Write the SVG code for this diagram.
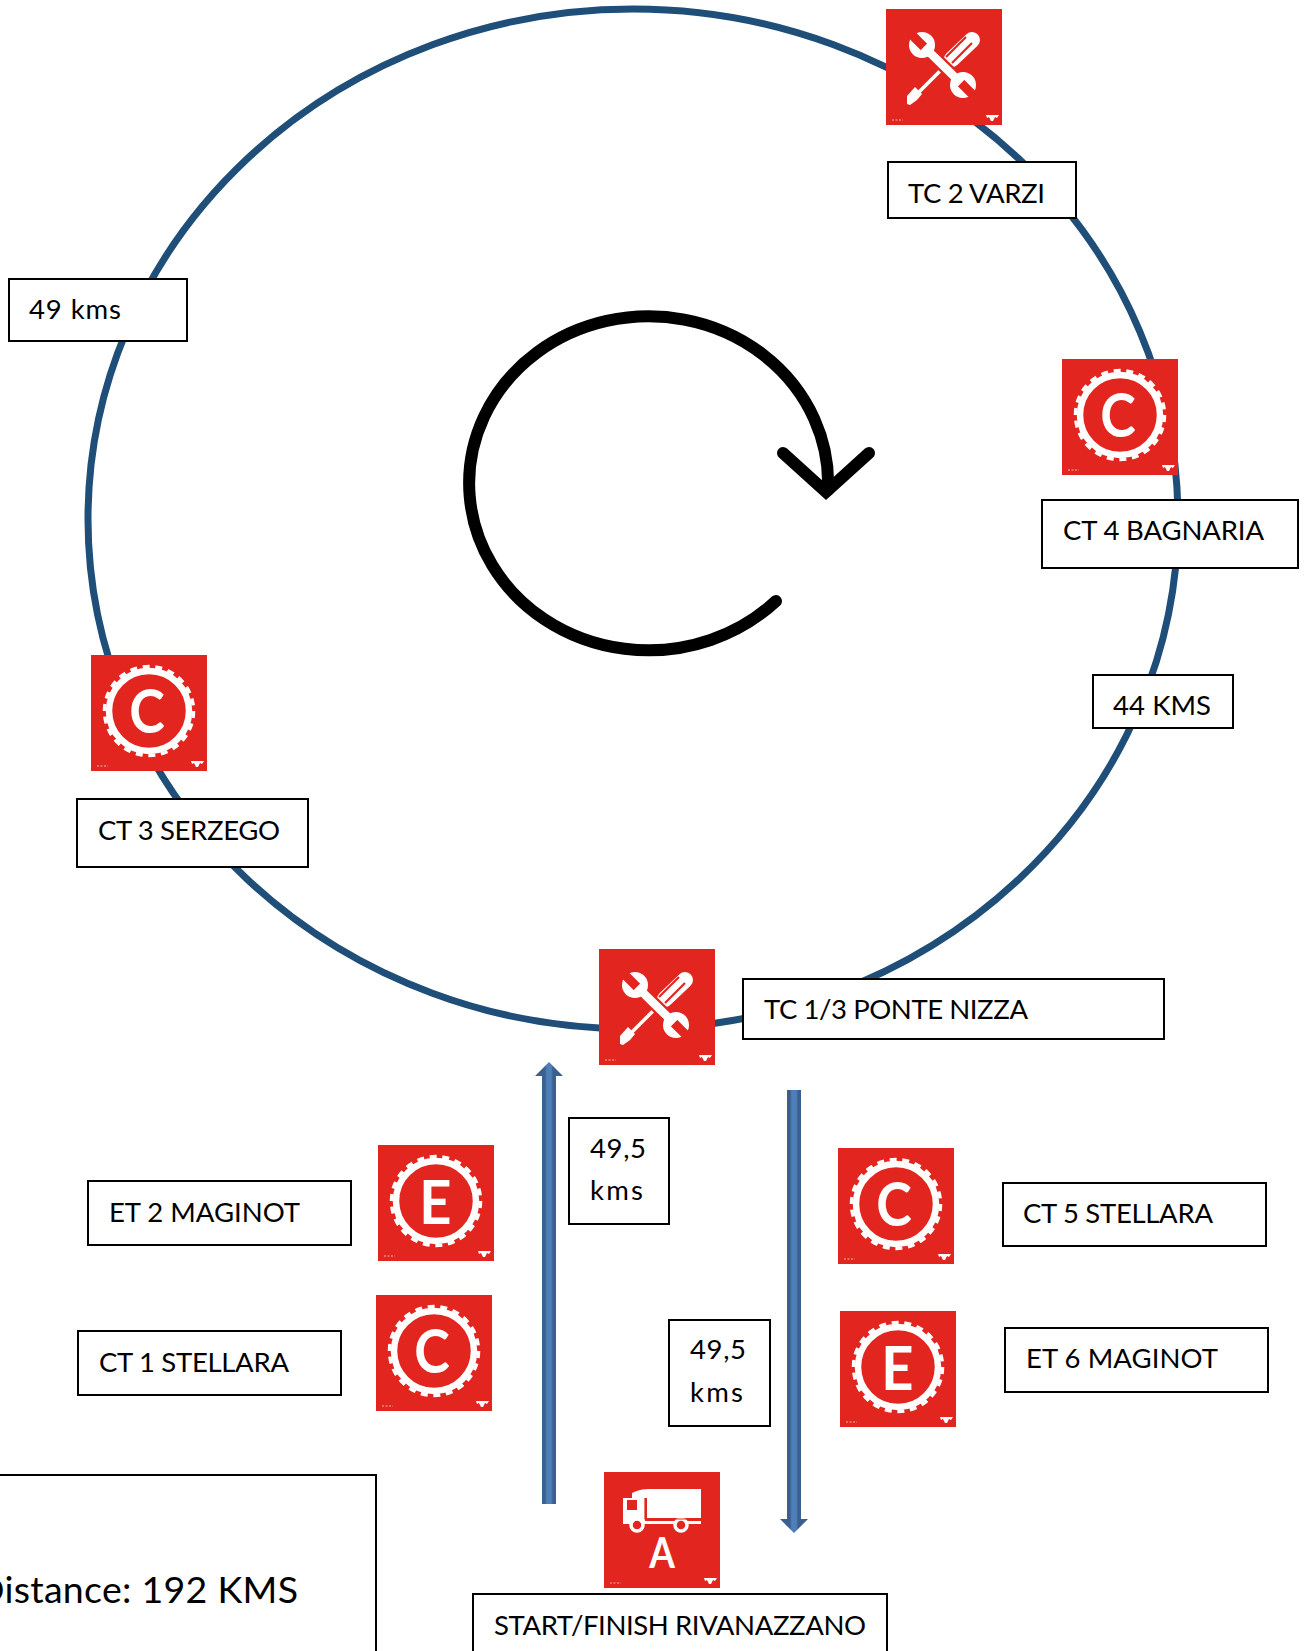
<svg xmlns="http://www.w3.org/2000/svg" xmlns:xlink="http://www.w3.org/1999/xlink" width="1305" height="1651" viewBox="0 0 1305 1651">
<style>
.box{fill:#fff;stroke:#000;stroke-width:2}
.lbl{font-family:"Lato","Liberation Sans",sans-serif;font-size:27.5px;fill:#000}
.big{font-size:37.5px}
.tile{fill:#e2261f}
.glyph{font-family:"Lato","Liberation Sans",sans-serif;font-weight:700;fill:#fff;text-anchor:middle;font-size:61px}
.w{fill:#fff;stroke:none}
</style>
<defs>
<linearGradient id="shaft" x1="0" x2="1" y1="0" y2="0">
<stop offset="0" stop-color="#3b6090"/><stop offset="0.36" stop-color="#3b6090"/><stop offset="0.42" stop-color="#4f7fb8"/><stop offset="0.58" stop-color="#4f7fb8"/><stop offset="0.64" stop-color="#3b6090"/><stop offset="1" stop-color="#3b6090"/>
</linearGradient>
<filter id="soft" x="-5%" y="-5%" width="110%" height="110%"><feGaussianBlur stdDeviation="0.5"/></filter>
<g id="base">
<rect class="tile" width="116" height="116"/>
<path class="w" d="M100 106h13l-2 3-2-1-2 4h-2l-2-4-2 1z"/>
<path d="M6 111h11" stroke="#f3b0ac" stroke-width="1" stroke-dasharray="2 1.5" fill="none"/>
</g>
<g id="ring" filter="url(#soft)">
<circle cx="58" cy="56" r="40" fill="none" stroke="#fff" stroke-width="6.5"/>
<circle cx="58" cy="56" r="44.5" fill="none" stroke="#fff" stroke-width="3.5" pathLength="44" stroke-dasharray="1.1 0.9"/>
</g>
<g id="tools">
<path d="M26 90 L60 56" stroke="#fff" stroke-width="3.5" fill="none"/>
<path class="w" d="M21 87l8-9 7 7-5 6-7 5-3-1z"/>
<path d="M66 50L86 31" stroke="#fff" stroke-width="16" stroke-linecap="round" fill="none"/>
<path d="M60 48L80 28M66 54L86 34" stroke="#e2261f" stroke-width="2.2" fill="none"/>
<path d="M34 34L79 78" stroke="#e2261f" stroke-width="13" fill="none"/>
<path d="M34 34L79 78" stroke="#fff" stroke-width="8.5" fill="none"/>
<circle cx="36" cy="36" r="13" fill="#fff"/>
<circle cx="77" cy="76" r="13" fill="#fff"/>
<path d="M38 38L22 22M75 74L91 90" stroke="#e2261f" stroke-width="9" fill="none"/>
<path d="M43 43l-5-5M70 69l5 5" stroke="#fff" stroke-width="8.5" fill="none"/>
</g>
<g id="truck">
<path class="w" d="M43 17H97V46H43zM28 21Q36 17 44 17V26H28zM19 26H41V50H19z"/>
<path class="tile" d="M23 28H33V38H23z"/>
<path class="w" d="M19 49H97V52H19z"/>
<g fill="#e2261f" stroke="#fff" stroke-width="3.5"><circle cx="33" cy="53" r="6"/><circle cx="77" cy="53" r="6"/></g>
<path d="M41 26V47H97" stroke="#e2261f" stroke-width="1.2" fill="none"/>
</g>
</defs>
<rect width="1305" height="1651" fill="#fff"/>
<g id="connectors">
<ellipse cx="633" cy="519" rx="545" ry="510" fill="none" stroke="#1f4e79" stroke-width="7"/>
<path d="M776 601A179.5 167 0 1 1 828 490" fill="none" stroke="#000" stroke-width="12" stroke-linecap="round"/>
<path d="M783 453L826 492L869 453" fill="none" stroke="#000" stroke-width="12" stroke-linecap="round"/>
<path d="M542 1504V1076H535L549 1062L563 1076H556V1504Z" fill="url(#shaft)"/>
<path d="M787 1090V1519H780L794 1533L808 1519H801V1090Z" fill="url(#shaft)"/>
</g>
<g id="icon-tc2" transform="translate(886 9)"><use href="#base"/><use href="#tools"/></g>
<g id="icon-ct4" transform="translate(1062 359)"><use href="#base"/><use href="#ring"/><text class="glyph" transform="translate(56 78) scale(.88 1)">C</text></g>
<g id="icon-ct3" transform="translate(91 655)"><use href="#base"/><use href="#ring"/><text class="glyph" transform="translate(56 78) scale(.88 1)">C</text></g>
<g id="icon-tc13" transform="translate(599 949)"><use href="#base"/><use href="#tools"/></g>
<g id="icon-et2" transform="translate(378 1145)"><use href="#base"/><use href="#ring"/><text class="glyph" transform="translate(57.5 79) scale(.92 1)">E</text></g>
<g id="icon-ct1" transform="translate(376 1295)"><use href="#base"/><use href="#ring"/><text class="glyph" transform="translate(56 78) scale(.88 1)">C</text></g>
<g id="icon-ct5" transform="translate(838 1148)"><use href="#base"/><use href="#ring"/><text class="glyph" transform="translate(56 78) scale(.88 1)">C</text></g>
<g id="icon-et6" transform="translate(840 1311)"><use href="#base"/><use href="#ring"/><text class="glyph" transform="translate(57.5 79) scale(.92 1)">E</text></g>
<g id="icon-a" transform="translate(604 1472)"><use href="#base"/><use href="#truck"/><text class="glyph" style="font-size:42px" transform="translate(58 96) scale(.88 1)">A</text></g>
<g id="label-tc2"><rect class="box" x="888" y="162" width="188" height="56"/><text class="lbl" x="908" y="203" textLength="137">TC 2 VARZI</text></g>
<g id="label-ct4"><rect class="box" x="1042" y="500" width="256" height="68"/><text class="lbl" x="1063" y="540" textLength="201">CT 4 BAGNARIA</text></g>
<g id="label-49"><rect class="box" x="9" y="279" width="178" height="62"/><text class="lbl" x="29" y="319" textLength="92">49 kms</text></g>
<g id="label-44"><rect class="box" x="1093" y="675" width="140" height="53"/><text class="lbl" x="1113" y="715" textLength="98">44 KMS</text></g>
<g id="label-ct3"><rect class="box" x="77" y="799" width="231" height="68"/><text class="lbl" x="98" y="840" textLength="182">CT 3 SERZEGO</text></g>
<g id="label-tc13"><rect class="box" x="743" y="979" width="421" height="60"/><text class="lbl" x="764" y="1019" textLength="264">TC 1/3 PONTE NIZZA</text></g>
<g id="label-495a"><rect class="box" x="569" y="1118" width="100" height="106"/><text class="lbl" x="590" y="1158" textLength="56">49,5</text><text class="lbl" x="590" y="1200" textLength="53">kms</text></g>
<g id="label-495b"><rect class="box" x="669" y="1320" width="101" height="106"/><text class="lbl" x="690" y="1359" textLength="56">49,5</text><text class="lbl" x="690" y="1402" textLength="53">kms</text></g>
<g id="label-et2"><rect class="box" x="88" y="1181" width="263" height="64"/><text class="lbl" x="109" y="1222" textLength="191">ET 2 MAGINOT</text></g>
<g id="label-ct1"><rect class="box" x="78" y="1331" width="263" height="64"/><text class="lbl" x="99" y="1372" textLength="190">CT 1 STELLARA</text></g>
<g id="label-ct5"><rect class="box" x="1003" y="1183" width="263" height="63"/><text class="lbl" x="1023" y="1223" textLength="190">CT 5 STELLARA</text></g>
<g id="label-et6"><rect class="box" x="1005" y="1328" width="263" height="64"/><text class="lbl" x="1026" y="1368" textLength="192">ET 6 MAGINOT</text></g>
<g id="label-start"><rect class="box" x="473" y="1594" width="414" height="80"/><text class="lbl" x="494" y="1635" textLength="372">START/FINISH RIVANAZZANO</text></g>
<g id="label-distance"><rect class="box" x="-20" y="1475" width="396" height="200"/><text class="lbl big" x="-24" y="1603" textLength="322">Distance: 192 KMS</text></g>
</svg>
